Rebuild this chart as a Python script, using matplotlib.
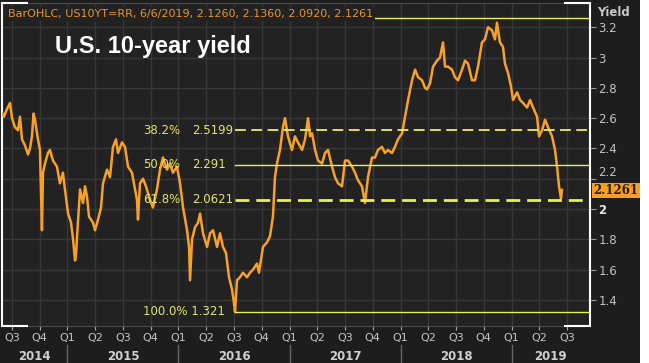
import matplotlib
matplotlib.use('Agg')
import matplotlib.pyplot as plt
from matplotlib.patches import Rectangle
from matplotlib.lines import Line2D
import matplotlib.transforms as mtransforms

# US 10-year yield (decimal year, yield %)
t = [2014.415, 2014.428, 2014.455, 2014.482, 2014.500, 2014.527, 2014.554, 2014.572,
     2014.590, 2014.617, 2014.644, 2014.662, 2014.680, 2014.694, 2014.707, 2014.734,
     2014.752, 2014.770, 2014.779, 2014.797, 2014.824, 2014.842, 2014.869, 2014.905,
     2014.932, 2014.959, 2014.977, 2015.005, 2015.032, 2015.050, 2015.068, 2015.077,
     2015.086, 2015.113, 2015.140, 2015.158, 2015.176, 2015.194, 2015.230, 2015.248,
     2015.275, 2015.302, 2015.320, 2015.356, 2015.383, 2015.410, 2015.437, 2015.455,
     2015.491, 2015.518, 2015.545, 2015.581, 2015.608, 2015.626, 2015.635, 2015.653,
     2015.680, 2015.707, 2015.743, 2015.770, 2015.806, 2015.833, 2015.860, 2015.896,
     2015.923, 2015.950, 2015.986, 2016.014, 2016.041, 2016.077, 2016.095, 2016.104,
     2016.122, 2016.149, 2016.176, 2016.194, 2016.221, 2016.257, 2016.284, 2016.311,
     2016.347, 2016.374, 2016.401, 2016.428, 2016.455, 2016.482, 2016.500, 2016.509,
     2016.527, 2016.554, 2016.581, 2016.617, 2016.644, 2016.671, 2016.707, 2016.725,
     2016.761, 2016.797, 2016.824, 2016.851, 2016.869, 2016.887, 2016.914, 2016.941,
     2016.959, 2016.986, 2017.022, 2017.049, 2017.076, 2017.113, 2017.140, 2017.167,
     2017.185, 2017.203, 2017.230, 2017.257, 2017.293, 2017.320, 2017.347, 2017.383,
     2017.410, 2017.437, 2017.473, 2017.500, 2017.527, 2017.563, 2017.590, 2017.617,
     2017.653, 2017.680, 2017.707, 2017.743, 2017.770, 2017.797, 2017.833, 2017.860,
     2017.887, 2017.923, 2017.950, 2017.977, 2018.014, 2018.041, 2018.068, 2018.104,
     2018.131, 2018.158, 2018.194, 2018.221, 2018.239, 2018.266, 2018.293, 2018.329,
     2018.356, 2018.383, 2018.401, 2018.428, 2018.464, 2018.491, 2018.518, 2018.554,
     2018.581, 2018.608, 2018.644, 2018.671, 2018.698, 2018.734, 2018.761, 2018.788,
     2018.824, 2018.851, 2018.869, 2018.896, 2018.923, 2018.941, 2018.968, 2018.995,
     2019.014, 2019.050, 2019.077, 2019.104, 2019.140, 2019.167, 2019.194, 2019.230,
     2019.248, 2019.275, 2019.302, 2019.329, 2019.365, 2019.392, 2019.410, 2019.428,
     2019.446, 2019.455]
yld = [2.63, 2.61, 2.66, 2.70, 2.60, 2.54, 2.52, 2.61,
       2.46, 2.42, 2.36, 2.40, 2.48, 2.63, 2.59, 2.46,
       2.39, 1.86, 2.24, 2.30, 2.37, 2.39, 2.32, 2.28,
       2.17, 2.24, 2.13, 1.97, 1.91, 1.80, 1.66, 1.70,
       1.82, 2.13, 2.04, 2.15, 2.08, 1.95, 1.91, 1.86,
       1.93, 2.01, 2.17, 2.26, 2.21, 2.41, 2.46, 2.37,
       2.44, 2.41, 2.28, 2.24, 2.13, 2.06, 1.93, 2.17,
       2.20, 2.15, 2.06, 2.01, 2.13, 2.26, 2.34, 2.26,
       2.30, 2.24, 2.28, 2.17, 2.01, 1.86, 1.75, 1.53,
       1.80, 1.88, 1.91, 1.97, 1.84, 1.75, 1.84, 1.86,
       1.75, 1.84, 1.75, 1.71, 1.55, 1.47, 1.38, 1.321,
       1.53, 1.55, 1.58, 1.55, 1.58, 1.60, 1.64, 1.58,
       1.75, 1.78, 1.82, 1.95, 2.21, 2.30, 2.39, 2.54,
       2.60, 2.48, 2.39, 2.48, 2.44, 2.39, 2.46, 2.60,
       2.48, 2.50, 2.39, 2.32, 2.30, 2.37, 2.39, 2.28,
       2.21, 2.17, 2.15, 2.32, 2.32, 2.28, 2.24, 2.19,
       2.15, 2.04, 2.21, 2.34, 2.34, 2.39, 2.41, 2.37,
       2.39, 2.37, 2.41, 2.46, 2.50, 2.61, 2.72, 2.85,
       2.92, 2.87, 2.85, 2.80, 2.79, 2.83, 2.94, 2.98,
       3.00, 3.10, 2.94, 2.94, 2.92, 2.87, 2.85, 2.92,
       2.98, 2.96, 2.85, 2.85, 2.94, 3.10, 3.12, 3.20,
       3.18, 3.12, 3.23, 3.10, 3.07, 2.96, 2.90, 2.81,
       2.72, 2.77, 2.72, 2.70, 2.67, 2.72, 2.67, 2.61,
       2.48, 2.52, 2.59, 2.54, 2.48, 2.39, 2.28, 2.15,
       2.07, 2.1261]

quarters = ['Q3', 'Q4', 'Q1', 'Q2', 'Q3', 'Q4', 'Q1', 'Q2', 'Q3', 'Q4', 'Q1',
            'Q2', 'Q3', 'Q4', 'Q1', 'Q2', 'Q3', 'Q4', 'Q1', 'Q2', 'Q3']
years = [2014, 2015, 2016, 2017, 2018, 2019]

fib_pct = ['0.0%', '38.2%', '50.0%', '61.8%', '100.0%']
fib_val = [3.261, 2.5199, 2.291, 2.0621, 1.321]

header = 'BarOHLC, US10YT=RR, 6/6/2019, 2.1260, 2.1360, 2.0920, 2.1261'
last = '2.1261'

BG = '#1d1d1d'
PLOT_BG = '#222222'
GRID = '#383838'
ORANGE = '#f7a128'
YELLOW = '#eeee55'
TXT = '#c4c4c4'

W, H = 649, 363
fig = plt.figure(figsize=(W / 100, H / 100), dpi=100, facecolor=BG)
ax = fig.add_axes([2 / W, 37 / H, 588 / W, 323 / H], facecolor=PLOT_BG)

xmin, xmax = 2014.410, 2019.707
ax.set_xlim(xmin, xmax)
ax.set_ylim(1.228, 3.360)

ax.plot(t, yld, color=ORANGE, lw=1.8, zorder=3)

# fibonacci retracement lines from the low
t_low = t[yld.index(min(yld))]
styles = {'0.0%': ('-', 1.0), '38.2%': ((0, (6, 3)), 1.3), '50.0%': ('-', 1.0),
          '61.8%': ((0, (5, 2.5)), 2.0), '100.0%': ('-', 1.0)}
for pct, val in zip(fib_pct, fib_val):
    ls, lw = styles[pct]
    ax.plot([t_low, xmax], [val, val], color=YELLOW, ls=ls, lw=lw, zorder=4)
    if pct == '0.0%':
        continue
    if pct == '100.0%':
        ax.text(0.240, val, pct + ' ' + f'{val:g}', color='#e4e46a', fontsize=8.5,
                va='center', ha='left', transform=ax.get_yaxis_transform(), zorder=5)
    else:
        ax.text(0.240, val, pct, color='#e4e46a', fontsize=8.5, va='center', ha='left',
                transform=ax.get_yaxis_transform(), zorder=5)
        ax.text(0.323, val, f'{val:g}', color='#e4e46a', fontsize=8.5, va='center',
                ha='left', transform=ax.get_yaxis_transform(), zorder=5)

# grid and ticks
qpos = [2014.5 + 0.25 * i for i in range(len(quarters))]
ax.set_xticks(qpos)
ax.set_xticklabels(quarters)
yt = [1.4, 1.6, 1.8, 2.0, 2.2, 2.4, 2.6, 2.8, 3.0, 3.2]
ax.set_yticks(yt)
ax.set_yticklabels([f'{v:g}' for v in yt])
ax.yaxis.tick_right()
ax.grid(True, color=GRID, lw=1.0)
ax.set_axisbelow(True)
ax.tick_params(axis='x', colors='#aaaaaa', labelcolor=TXT, labelsize=8, length=3, pad=2)
ax.tick_params(axis='y', colors='#999999', labelcolor=TXT, labelsize=8.5, length=4, pad=2)
for lab in ax.get_yticklabels():
    if lab.get_text() == '2':
        lab.set_fontweight('bold')
        lab.set_color('#e6e6e6')
    if lab.get_text() == '2.2':
        lab.set_va('bottom')

for s in ['top', 'bottom']:
    ax.spines[s].set_color('#4a4a4a')
for s in ['left', 'right']:
    ax.spines[s].set_color('white')
    ax.spines[s].set_linewidth(1.5)
# white corner brackets
for x0, x1 in [(0, 0.043), (0.957, 1)]:
    for yy in [0, 1]:
        ax.plot([x0, x1], [yy, yy], color='white', lw=1.5, transform=ax.transAxes,
                clip_on=False, zorder=6)

# year labels and separators
trans = mtransforms.blended_transform_factory(ax.transData, fig.transFigure)
for yr in years:
    lo, hi = max(yr, xmin), min(yr + 1, xmax)
    ax.text((lo + hi) / 2, 1 - 356 / H, str(yr), transform=trans, ha='center',
            va='center', color='#d0d0d0', fontsize=8.5, fontweight='bold')
    if yr > xmin:
        fig.add_artist(Line2D([yr, yr], [1 - 345 / H, 1 - 362 / H], transform=trans,
                              color='#666666', lw=1))

# header and title
fig.text(8 / W, 1 - 14 / H, header, color='#e8952c', fontsize=8, va='center', ha='left',
         bbox=dict(facecolor=PLOT_BG, edgecolor='none', pad=1.5), zorder=10)
fig.text(55 / W, 1 - 47 / H, 'U.S. 10-year yield', color='white', fontsize=17,
         fontweight='bold', family='Liberation Sans', va='center', ha='left')
fig.text(597 / W, 1 - 12 / H, 'Yield', color='#c8c8c8', fontsize=8.5, fontweight='bold',
         va='center', ha='left')

# last price tag
fig.add_artist(Rectangle((592 / W, 1 - 198 / H), 48 / W, 15 / H, transform=fig.transFigure,
                         facecolor='#f5a023', edgecolor='none', zorder=10))
fig.text(616 / W, 1 - 191 / H, last, color='#2a1800', fontsize=8.5, fontweight='bold',
         family='DejaVu Serif', ha='center', va='center', zorder=11)

# white strip on the right edge
fig.add_artist(Rectangle((640 / W, 0), 9 / W, 1, transform=fig.transFigure,
                         facecolor='white', edgecolor='none', zorder=10))

fig.savefig('out.png', dpi=100, facecolor=BG)
